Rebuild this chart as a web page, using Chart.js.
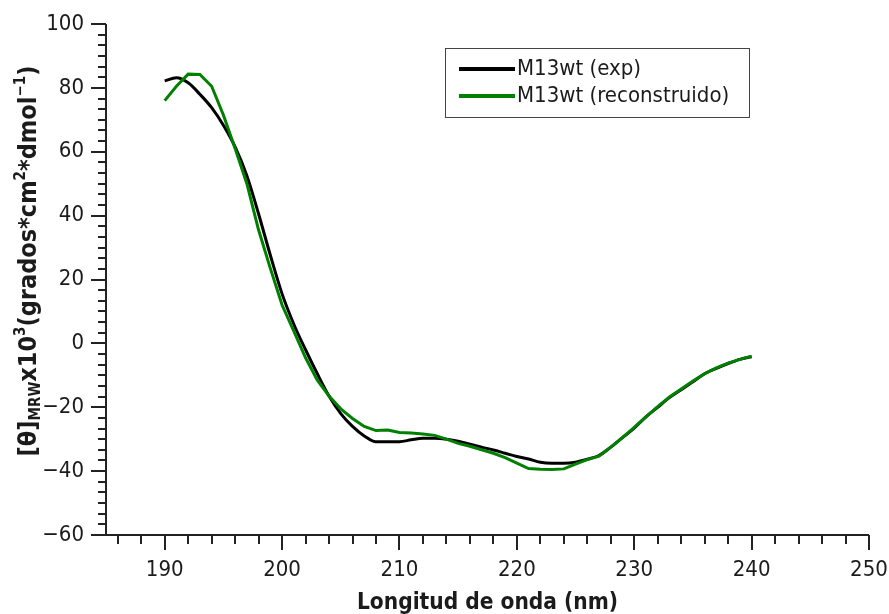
<!DOCTYPE html>
<html>
<head>
<meta charset="utf-8">
<script src="https://cdn.jsdelivr.net/npm/chart.js@4.4.1/dist/chart.umd.min.js"></script>
<style>
  html, body { margin: 0; padding: 0; background: #fff; }
</style>
</head>
<body>
<canvas id="cdChart" width="889" height="614"></canvas>
<script>
// wavelength (nm)
const wavelengths = [
  190, 191, 192, 193, 194, 195, 196, 197, 198, 199,
  200, 201, 202, 203, 204, 205, 206, 207, 208, 209,
  210, 211, 212, 213, 214, 215, 216, 217, 218, 219,
  220, 221, 222, 223, 224, 225, 226, 227, 228, 229,
  230, 231, 232, 233, 234, 235, 236, 237, 238, 239, 240
];
const expValues = [
  82.2, 83.2, 81.6, 78.0, 73.8, 68.3, 61.5, 52.5, 40.5, 27.6,
  15.5, 6.0, -2.0, -9.5, -16.5, -22.0, -26.0, -29.0, -30.8, -30.8,
  -30.8, -30.2, -29.7, -29.7, -30.0, -30.6, -31.6, -32.5, -33.4, -34.4,
  -35.4, -36.2, -37.2, -37.5, -37.5, -37.2, -36.3, -35.1, -32.5, -29.5,
  -26.5, -23.0, -20.0, -17.0, -14.5, -12.0, -9.5, -7.8, -6.3, -5.0, -4.2
];
const reconValues = [
  76.0, 80.5, 84.3, 84.2, 80.5, 71.5, 61.0, 50.0, 35.5, 23.5,
  12.0, 3.8, -4.5, -11.5, -16.5, -20.5, -23.5, -26.0, -27.3, -27.1,
  -27.9, -28.1, -28.4, -28.8, -30.0, -31.3, -32.2, -33.3, -34.4, -35.8,
  -37.5, -39.2, -39.4, -39.5, -39.3, -37.8, -36.4, -35.3, -32.5, -29.5,
  -26.3, -23.0, -19.8, -16.8, -14.3, -11.8, -9.5, -7.7, -6.2, -5.0, -4.0
];
const xTickValues = [190, 200, 210, 220, 230, 240, 250];
const seriesNames = ['M13wt (exp)', 'M13wt (reconstruido)'];
const seriesColors = ['#000000', '#008000'];

const FONT = '"DejaVu Sans Condensed", "DejaVu Sans", sans-serif';
const TEXT = '#1b1b1b';

function toPoints(vals) {
  return wavelengths.map((w, i) => ({ x: w, y: vals[i] }));
}

// keep the plot box fixed: no extra room for overhanging tick labels
function fixBox(size, key) {
  return s => {
    s[key] = size;
    s.paddingTop = s.paddingBottom = s.paddingLeft = s.paddingRight = 0;
  };
}

// axes, minor ticks, legend box and the rich y title
const decor = {
  id: 'decor',
  afterDraw(chart) {
    const { ctx, chartArea: a, scales: { x, y } } = chart;
    ctx.save();
    ctx.strokeStyle = '#222';
    ctx.lineWidth = 2;
    ctx.beginPath();
    ctx.moveTo(a.left, a.top); ctx.lineTo(a.left, a.bottom); ctx.lineTo(a.right, a.bottom);
    for (let v = 186; v <= 250; v += 2) {
      const px = Math.round(x.getPixelForValue(v));
      const len = v % 10 === 0 ? 15 : 9;
      ctx.moveTo(px, a.bottom); ctx.lineTo(px, a.bottom + len);
    }
    for (let i = 0; i <= 48; i++) {
      const py = Math.round(y.getPixelForValue(-60 + i * 20 / 6));
      const len = i % 6 === 0 ? 15 : 8;
      ctx.moveTo(a.left - len, py); ctx.lineTo(a.left, py);
    }
    ctx.stroke();

    // legend
    const lx = 445, ly = 48, lw = 304, lh = 69;
    ctx.lineWidth = 1;
    ctx.strokeStyle = '#444';
    ctx.strokeRect(lx + 0.5, ly + 0.5, lw, lh);
    ctx.font = '22px ' + FONT;
    ctx.textBaseline = 'middle';
    ctx.fillStyle = TEXT;
    seriesNames.forEach((name, i) => {
      const yy = ly + 21 + i * 27;
      ctx.strokeStyle = seriesColors[i];
      ctx.lineWidth = 4;
      ctx.beginPath(); ctx.moveTo(459, yy); ctx.lineTo(515, yy); ctx.stroke();
      ctx.fillText(name, 517, yy);
    });

    // x title
    ctx.font = 'bold 22.5px ' + FONT;
    ctx.textAlign = 'center';
    ctx.textBaseline = 'alphabetic';
    ctx.fillText('Longitud de onda (nm)', (a.left + a.right) / 2, 609);

    // y title with sub/superscripts
    const parts = [
      ['[θ]', 'n'], ['MRW', 'sub'], ['x10', 'n'], ['3', 'sup'],
      ['(grados*cm', 'n'], ['2', 'sup'], ['*dmol', 'n'], ['−1', 'sup'], [')', 'n']
    ];
    const big = 'bold 25px ' + FONT, small = 'bold 15px ' + FONT;
    let total = 0;
    parts.forEach(p => { ctx.font = p[1] === 'n' ? big : small; total += ctx.measureText(p[0]).width; });
    ctx.translate(27, 261);
    ctx.rotate(-Math.PI / 2);
    ctx.textAlign = 'left';
    let cx = -total / 2;
    parts.forEach(p => {
      ctx.font = p[1] === 'n' ? big : small;
      const dy = p[1] === 'sub' ? 13 : p[1] === 'sup' ? -2 : 9;
      ctx.fillText(p[0], cx, dy);
      cx += ctx.measureText(p[0]).width;
    });
    ctx.restore();
  }
};

new Chart(document.getElementById('cdChart'), {
  type: 'line',
  data: {
    datasets: [
      {
        label: seriesNames[0],
        data: toPoints(expValues),
        borderColor: seriesColors[0],
        borderWidth: 3,
        pointRadius: 0,
        cubicInterpolationMode: 'monotone',
        order: 1
      },
      {
        label: seriesNames[1],
        data: toPoints(reconValues),
        borderColor: seriesColors[1],
        borderWidth: 3,
        pointRadius: 0,
        tension: 0,
        order: 0
      }
    ]
  },
  options: {
    responsive: false,
    animation: false,
    devicePixelRatio: 1,
    layout: { padding: { top: 24, right: 20, left: 0, bottom: 0 } },
    plugins: { legend: { display: false }, tooltip: { enabled: false } },
    scales: {
      x: {
        type: 'linear',
        min: 185,
        max: 250,
        afterBuildTicks: s => { s.ticks = xTickValues.map(v => ({ value: v })); },
        afterFit: fixBox(79, 'height'),
        grid: { display: false, drawTicks: false },
        border: { display: false },
        ticks: { font: { family: FONT, size: 22 }, color: TEXT, padding: 22, maxRotation: 0, autoSkip: false }
      },
      y: {
        min: -60,
        max: 100,
        afterFit: fixBox(106, 'width'),
        grid: { display: false, drawTicks: false },
        border: { display: false },
        ticks: {
          stepSize: 20,
          font: { family: FONT, size: 22 },
          color: TEXT,
          padding: 22,
          callback: v => String(v).replace('-', '−')
        }
      }
    }
  },
  plugins: [decor]
});
</script>
</body>
</html>
